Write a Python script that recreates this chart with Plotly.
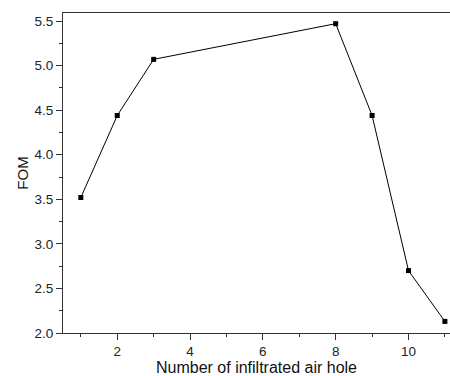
import plotly.graph_objects as go

x_vals = [1, 2, 3, 8, 9, 10, 11]
fom_vals = [3.52, 4.44, 5.07, 5.47, 4.44, 2.70, 2.13]
x_title = "Number of infiltrated air hole"
y_title = "FOM"

FONT = "Arial, Liberation Sans"

fig = go.Figure()
fig.add_trace(go.Scatter(
    x=x_vals, y=fom_vals, mode="lines+markers",
    line=dict(color="black", width=1),
    marker=dict(symbol="square", size=5, color="black"),
    showlegend=False,
))

axis_common = dict(
    showgrid=False, zeroline=False, showline=True, linecolor="#333333", linewidth=1.2,
    mirror=True, ticks="outside", ticklen=6, tickcolor="#333333", tickwidth=1,
    tickfont=dict(family=FONT, size=13.5, color="#222222"),
)

fig.update_xaxes(
    range=[0.51, 11.14], tickmode="array", tickvals=[2, 4, 6, 8, 10],
    minor=dict(ticks="outside", ticklen=3, tickcolor="#333333", dtick=1, tick0=0),
    ticklabelstandoff=0,
    title=dict(text=x_title, font=dict(family=FONT, size=16, color="#111111"), standoff=4),
    **axis_common,
)
fig.update_yaxes(
    range=[2.0, 5.59], tickmode="array", tickvals=[2.0, 2.5, 3.0, 3.5, 4.0, 4.5, 5.0, 5.5],
    ticktext=["2.0", "2.5", "3.0", "3.5", "4.0", "4.5", "5.0", "5.5"],
    minor=dict(ticks="outside", ticklen=3, tickcolor="#333333", dtick=0.25, tick0=0),
    title=dict(text=y_title, font=dict(family=FONT, size=15, color="#111111"), standoff=2),
    **axis_common,
)

fig.update_layout(
    width=450, height=376,
    margin=dict(l=63, r=0, t=13, b=43),
    plot_bgcolor="white", paper_bgcolor="white",
)

fig.write_html("out.html")
